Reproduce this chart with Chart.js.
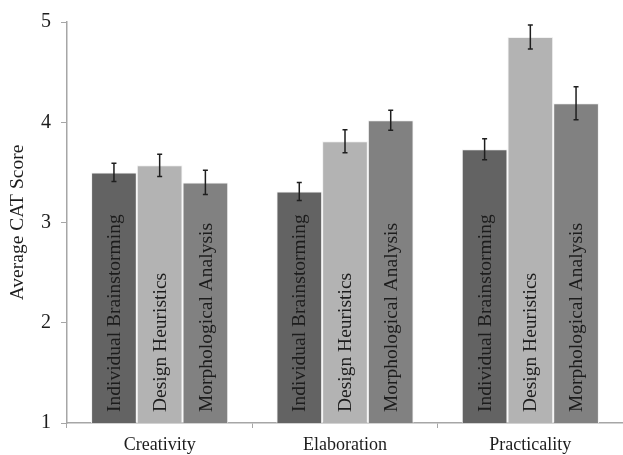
<!DOCTYPE html>
<html>
<head>
<meta charset="utf-8">
<script src="https://cdn.jsdelivr.net/npm/chart.js@4/dist/chart.umd.min.js"></script>
<style>
  html, body { margin: 0; padding: 0; background: #ffffff; }
  #wrap { width: 623px; height: 455px; }
</style>
</head>
<body>
<div id="wrap"><canvas id="c" width="623" height="455"></canvas></div>
<script>
// Mean CAT scores per idea-generation method, with standard-error bars
const categories = ['Creativity', 'Elaboration', 'Practicality'];
const methods = ['Individual Brainstorming', 'Design Heuristics', 'Morphological Analysis'];

const brainstorming = [3.50, 3.31, 3.73];
const heuristics = [3.57, 3.81, 4.85];
const morphological = [3.40, 4.02, 4.19];

const brainstormingErr = [0.09, 0.09, 0.105];
const heuristicsErr = [0.11, 0.115, 0.12];
const morphologicalErr = [0.12, 0.10, 0.165];

const yTicks = [1, 2, 3, 4, 5];

const SERIF = '"Liberation Serif", "Times New Roman", "DejaVu Serif", serif';
const fills = ['#636363', '#b3b3b3', '#818181'];

// Error whiskers and rotated in-bar method labels
const barExtras = {
  id: 'barExtras',
  afterDatasetsDraw(chart) {
    const ctx = chart.ctx;
    const y = chart.scales.y;
    chart.data.datasets.forEach((ds, di) => {
      const meta = chart.getDatasetMeta(di);
      meta.data.forEach((bar, i) => {
        const v = ds.data[i];
        const e = ds.errors[i];
        const x = bar.x;
        // method name, written upward from the bar base
        ctx.save();
        ctx.translate(x + 1, y.getPixelForValue(y.min) - 11);
        ctx.rotate(-Math.PI / 2);
        ctx.font = '19.5px ' + SERIF;
        ctx.fillStyle = '#1c1c1c';
        ctx.textAlign = 'left';
        ctx.textBaseline = 'middle';
        ctx.fillText(ds.label, 0, 0);
        ctx.restore();
        // whisker
        const yt = y.getPixelForValue(v + e);
        const yb = y.getPixelForValue(v - e);
        ctx.save();
        ctx.strokeStyle = '#1e1e1e';
        ctx.lineWidth = 1.5;
        ctx.beginPath();
        ctx.moveTo(x, yt); ctx.lineTo(x, yb);
        ctx.moveTo(x - 2.5, yt); ctx.lineTo(x + 2.5, yt);
        ctx.moveTo(x - 2.5, yb); ctx.lineTo(x + 2.5, yb);
        ctx.stroke();
        ctx.restore();
      });
    });
  }
};

const series = [brainstorming, heuristics, morphological];
const errs = [brainstormingErr, heuristicsErr, morphologicalErr];

new Chart(document.getElementById('c'), {
  type: 'bar',
  data: {
    labels: categories,
    datasets: methods.map((m, k) => ({
      label: m,
      data: series[k],
      errors: errs[k],
      backgroundColor: fills[k],
      borderColor: '#f2f2f2',
      borderWidth: 1,
      categoryPercentage: 0.74,
      barPercentage: 1.0
    }))
  },
  options: {
    responsive: false,
    animation: false,
    devicePixelRatio: 1,
    layout: { padding: { top: 19, right: 0, bottom: 0, left: 0 } },
    plugins: {
      legend: { display: false },
      tooltip: { enabled: false }
    },
    scales: {
      x: {
        afterFit(s) { s.height = 32; },
        border: { color: '#a6a6a6', width: 1.5 },
        grid: { drawOnChartArea: false, color: '#a6a6a6', tickLength: 5, offset: true },
        ticks: { color: '#1c1c1c', font: { family: SERIF, size: 18 }, padding: 6 }
      },
      y: {
        min: 1,
        max: 5,
        afterFit(s) { s.width = 67; },
        afterBuildTicks(s) { s.ticks = yTicks.map(v => ({ value: v })); },
        border: { color: '#a6a6a6', width: 1.5 },
        grid: { drawOnChartArea: false, color: '#a6a6a6', tickLength: 6 },
        ticks: { color: '#1c1c1c', font: { family: SERIF, size: 20 }, padding: 10 },
        title: {
          display: true,
          text: 'Average CAT Score',
          color: '#1c1c1c',
          font: { family: SERIF, size: 19.5 },
          padding: { top: 6, bottom: 0 }
        }
      }
    }
  },
  plugins: [barExtras]
});
</script>
</body>
</html>
